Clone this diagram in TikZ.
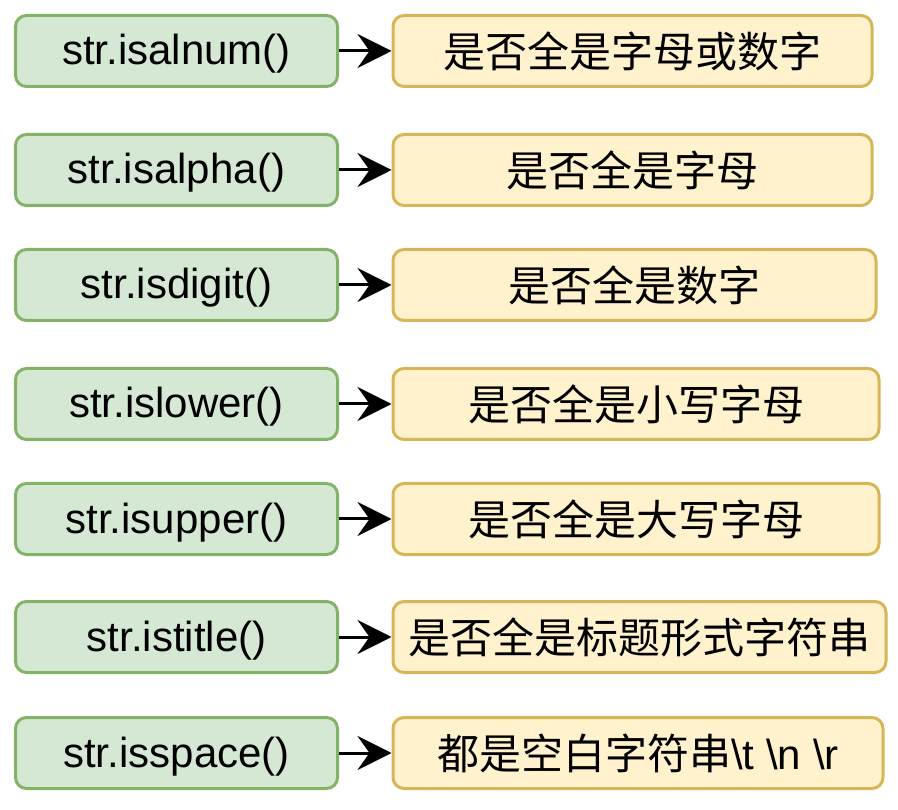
\documentclass[tikz,border=0pt]{standalone}
\usepackage{fontspec}
\setmainfont{Liberation Sans}
\newfontfamily\cjk{Noto Sans CJK SC}
\usetikzlibrary{arrows.meta}
\definecolor{gfill}{HTML}{D5E8D4}
\definecolor{gline}{HTML}{82B366}
\definecolor{yfill}{HTML}{FFF2CC}
\definecolor{yline}{HTML}{D6B656}
\begin{document}
\begin{tikzpicture}[x=1pt,y=-1pt,
  fnbox/.style={draw=gline,fill=gfill,line width=3pt,rounded corners=11pt,
    minimum width=322pt,minimum height=71pt,inner sep=0pt,
    text height=35pt,text depth=7pt,
    font=\fontsize{42}{48}\selectfont},
  descbox/.style={draw=yline,fill=yfill,line width=3pt,rounded corners=11pt,
    minimum height=71pt,inner sep=0pt,anchor=west,
    font=\fontsize{42}{48}\selectfont},
  conn/.style={line width=3pt,-{Stealth[length=34pt,width=34pt,inset=12pt]}}]
\useasboundingbox (0,0) rectangle (898,810);
\node[fnbox] (f1) at (176.5,51) {str.isalnum()};
\node[fnbox] (f2) at (176.5,170) {str.isalpha()};
\node[fnbox] (f3) at (176.5,285) {str.isdigit()};
\node[fnbox] (f4) at (176.5,404) {str.islower()};
\node[fnbox] (f5) at (176.5,519) {str.isupper()};
\node[fnbox] (f6) at (176.5,637) {str.istitle()};
\node[fnbox] (f7) at (176.5,753) {str.isspace()};
\node[descbox,minimum width=479pt] (d1) at (391.5,51) {\cjk 是否全是字母或数字};
\node[descbox,minimum width=479pt] (d2) at (391.5,170) {\cjk 是否全是字母};
\node[descbox,minimum width=483pt] (d3) at (391.5,285) {\cjk 是否全是数字};
\node[descbox,minimum width=486pt] (d4) at (391.5,404) {\cjk 是否全是小写字母};
\node[descbox,minimum width=486pt] (d5) at (391.5,519) {\cjk 是否全是大写字母};
\node[descbox,minimum width=493pt] (d6) at (391.5,637) {\cjk 是否全是标题形式字符串};
\node[descbox,minimum width=490pt] (d7) at (391.5,753) {{\cjk 都是空白字符串}\textbackslash t \textbackslash n \textbackslash r};
\foreach \i in {1,...,7} {\draw[conn] (f\i.east) -- (d\i.west);}
\end{tikzpicture}
\end{document}
